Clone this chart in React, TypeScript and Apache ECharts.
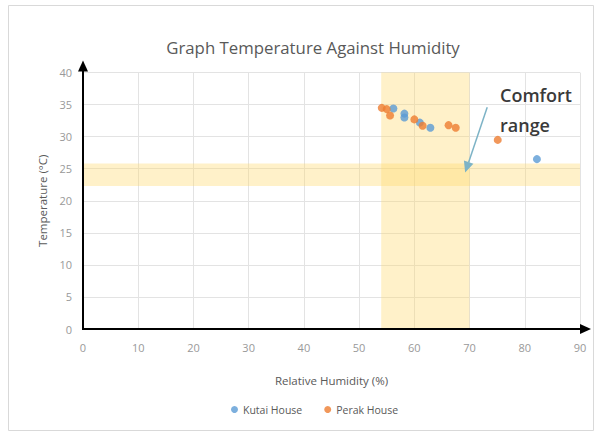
import React, { useEffect, useRef } from "react";
import * as echarts from "echarts";

const kutaiHumidity = [56.2, 58.2, 58.2, 61.0, 62.9, 82.2];
const kutaiTemp = [34.4, 33.6, 33.0, 32.2, 31.4, 26.5];
const perakHumidity = [54.1, 55.0, 55.6, 60.0, 61.5, 66.2, 67.5, 75.1];
const perakTemp = [34.5, 34.3, 33.3, 32.7, 31.7, 31.8, 31.4, 29.5];
const comfortHumidity = [54, 70];
const comfortTemp = [22.3, 25.8];
const seriesNames = ["Kutai House", "Perak House"];
const arrowFrom = [73.2, 34.6];
const arrowTo = [69.2, 24.4];

const FONT = "'Open Sans', Lato, sans-serif";

export default function App() {
  const ref = useRef<HTMLDivElement>(null);
  useEffect(() => {
    if (!ref.current) return;
    const chart = echarts.init(ref.current, null, { renderer: "svg" });
    const kutai = kutaiHumidity.map((h, i) => [h, kutaiTemp[i]]);
    const perak = perakHumidity.map((h, i) => [h, perakTemp[i]]);
    chart.setOption({
      animation: false,
      backgroundColor: "#ffffff",
      title: {
        text: "Graph Temperature Against Humidity",
        left: 308,
        textAlign: "center",
        top: 34,
        textStyle: { fontFamily: FONT, fontSize: 16.8, fontWeight: "normal", color: "#595959" },
      },
      legend: {
        data: seriesNames,
        bottom: 12,
        left: 226,
        icon: "circle",
        itemWidth: 7,
        itemHeight: 7,
        itemGap: 22,
        textStyle: { fontFamily: FONT, fontSize: 10.5, color: "#595959" },
      },
      grid: { left: 83, right: 15, top: 72.6, bottom: 103 },
      xAxis: {
        type: "value",
        min: 0,
        max: 90,
        interval: 10,
        name: "Relative Humidity (%)",
        nameLocation: "middle",
        nameGap: 45,
        nameTextStyle: { fontFamily: FONT, fontSize: 11.5, color: "#595959" },
        axisLine: { show: false },
        axisTick: { show: false },
        axisLabel: { fontFamily: FONT, fontSize: 11, color: "#999999", margin: 13 },
        splitLine: { show: true, lineStyle: { color: "#e3e3e3", width: 1 } },
      },
      yAxis: {
        type: "value",
        min: 0,
        max: 40,
        interval: 5,
        name: "Temperature (°C)",
        nameLocation: "middle",
        nameGap: 26,
        nameTextStyle: { fontFamily: FONT, fontSize: 11.5, color: "#595959" },
        axisLine: { show: false },
        axisTick: { show: false },
        axisLabel: { fontFamily: FONT, fontSize: 11, color: "#999999", margin: 11 },
        splitLine: { show: true, lineStyle: { color: "#e3e3e3", width: 1 } },
      },
      series: [
        {
          name: seriesNames[0],
          type: "scatter",
          data: kutai,
          symbolSize: 8,
          itemStyle: { color: "#5B9BD5" },
          z: 2,
        },
        {
          name: seriesNames[1],
          type: "scatter",
          data: perak,
          symbolSize: 8,
          itemStyle: { color: "#ED7D31" },
          z: 2,
        },
        {
          name: "comfort",
          type: "scatter",
          data: [],
          z: 5,
          silent: true,
          markArea: {
            silent: true,
            itemStyle: { color: "rgba(255, 214, 100, 0.35)" },
            data: [
              [{ xAxis: comfortHumidity[0], yAxis: 0 }, { xAxis: comfortHumidity[1], yAxis: 40 }],
              [{ xAxis: 0, yAxis: comfortTemp[0] }, { xAxis: 90, yAxis: comfortTemp[1] }],
            ],
          },
        },
      ],
    });

    const o = chart.convertToPixel({ gridIndex: 0 }, [0, 0]) as number[];
    const yTop = chart.convertToPixel({ gridIndex: 0 }, [0, 40]) as number[];
    const xEnd = chart.convertToPixel({ gridIndex: 0 }, [90, 0]) as number[];
    const a0 = chart.convertToPixel({ gridIndex: 0 }, arrowFrom) as number[];
    const a1 = chart.convertToPixel({ gridIndex: 0 }, arrowTo) as number[];
    const dx = a1[0] - a0[0];
    const dy = a1[1] - a0[1];
    const len = Math.sqrt(dx * dx + dy * dy);
    const ux = dx / len;
    const uy = dy / len;
    const ah = 11;
    const aw = 5;
    const base = [a1[0] - ux * ah, a1[1] - uy * ah];
    const axisColor = "#000000";
    const tipY = yTop[1] - 12;
    const tipX = xEnd[0] + 11;

    chart.setOption({
      graphic: [
        {
          type: "rect",
          shape: { x: 8.5, y: 5.5, width: 585, height: 425 },
          style: { fill: "none", stroke: "#d9d9d9", lineWidth: 1 },
          z: 0,
        },
        {
          type: "line",
          shape: { x1: o[0], y1: o[1], x2: o[0], y2: tipY + 8 },
          style: { stroke: axisColor, lineWidth: 2 },
          z: 10,
        },
        {
          type: "polygon",
          shape: { points: [[o[0], tipY], [o[0] - 5, tipY + 11], [o[0] + 5, tipY + 11]] },
          style: { fill: axisColor },
          z: 10,
        },
        {
          type: "line",
          shape: { x1: o[0] - 1, y1: o[1], x2: tipX - 8, y2: o[1] },
          style: { stroke: axisColor, lineWidth: 2 },
          z: 10,
        },
        {
          type: "polygon",
          shape: { points: [[tipX, o[1]], [tipX - 11, o[1] - 5], [tipX - 11, o[1] + 5]] },
          style: { fill: axisColor },
          z: 10,
        },
        {
          type: "line",
          shape: { x1: a0[0], y1: a0[1], x2: base[0], y2: base[1] },
          style: { stroke: "#7db3c6", lineWidth: 1.5 },
          z: 10,
        },
        {
          type: "polygon",
          shape: {
            points: [
              [a1[0], a1[1]],
              [base[0] - uy * aw, base[1] + ux * aw],
              [base[0] + uy * aw, base[1] - ux * aw],
            ],
          },
          style: { fill: "#7db3c6" },
          z: 10,
        },
        {
          type: "text",
          x: 500,
          y: 80,
          style: {
            text: "Comfort\nrange",
            fontFamily: FONT,
            fontSize: 18,
            fontWeight: 600,
            lineHeight: 30,
            fill: "#3a3a3a",
          },
          z: 10,
        },
      ],
    });
    return () => chart.dispose();
  }, []);
  return (
    <div
      ref={ref}
      style={{ position: "absolute", left: 0, top: 0, width: 595, height: 432 }}
    />
  );
}
